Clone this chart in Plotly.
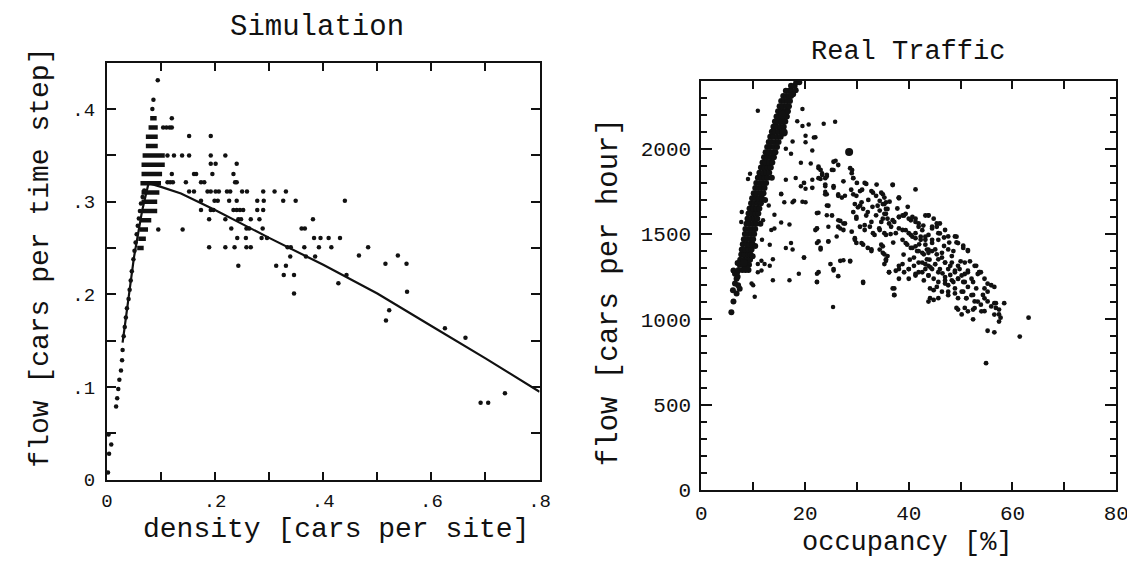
import plotly.graph_objects as go

# ---------------- Simulation panel data ----------------
sim_points = [
    (0.002, 0.008), (0.004, 0.028), (0.008, 0.038), (0.003, 0.049),
    (0.017, 0.079), (0.019, 0.088), (0.021, 0.098), (0.023, 0.108), (0.026, 0.118),
    (0.028, 0.129), (0.029, 0.140),
    (0.031, 0.155), (0.033, 0.165), (0.035, 0.175), (0.037, 0.185), (0.040, 0.195),
    (0.042, 0.205), (0.044, 0.215), (0.046, 0.225), (0.049, 0.238), (0.051, 0.247),
    (0.053, 0.256), (0.055, 0.265), (0.057, 0.274), (0.059, 0.282), (0.061, 0.290),
    (0.063, 0.298), (0.066, 0.305), (0.069, 0.312),
    (0.094, 0.431), (0.086, 0.410), (0.084, 0.400), (0.120, 0.390),
    (0.104, 0.380), (0.110, 0.380), (0.116, 0.380), (0.120, 0.380),
    (0.152, 0.371), (0.192, 0.371),
    (0.112, 0.350), (0.124, 0.350), (0.139, 0.350), (0.152, 0.350), (0.192, 0.350), (0.219, 0.350),
    (0.192, 0.341), (0.201, 0.341), (0.240, 0.341),
    (0.120, 0.330), (0.161, 0.330), (0.165, 0.330), (0.195, 0.330), (0.234, 0.330),
    (0.112, 0.321), (0.117, 0.321), (0.122, 0.321), (0.146, 0.321), (0.174, 0.321),
    (0.180, 0.321), (0.237, 0.321), (0.240, 0.321),
    (0.152, 0.311), (0.161, 0.311), (0.186, 0.311), (0.192, 0.311), (0.201, 0.311),
    (0.207, 0.311), (0.222, 0.311), (0.228, 0.311), (0.250, 0.311), (0.259, 0.311),
    (0.289, 0.311), (0.310, 0.311), (0.331, 0.311),
    (0.174, 0.301), (0.199, 0.301), (0.205, 0.301), (0.226, 0.301), (0.240, 0.301),
    (0.278, 0.301), (0.290, 0.301), (0.326, 0.301), (0.349, 0.301), (0.440, 0.301),
    (0.174, 0.291), (0.192, 0.291), (0.197, 0.291), (0.234, 0.291), (0.240, 0.291),
    (0.246, 0.291), (0.252, 0.291), (0.278, 0.291), (0.289, 0.291),
    (0.189, 0.281), (0.219, 0.281), (0.243, 0.281), (0.248, 0.281), (0.266, 0.281),
    (0.282, 0.281), (0.381, 0.281),
    (0.095, 0.270), (0.140, 0.270), (0.230, 0.271), (0.258, 0.271), (0.263, 0.271),
    (0.288, 0.271), (0.360, 0.271), (0.366, 0.271),
    (0.241, 0.261), (0.257, 0.261), (0.286, 0.261), (0.296, 0.261), (0.383, 0.261),
    (0.395, 0.261), (0.410, 0.261), (0.431, 0.261),
    (0.189, 0.251), (0.219, 0.251), (0.236, 0.251), (0.258, 0.251), (0.266, 0.251),
    (0.334, 0.251), (0.340, 0.251), (0.365, 0.251), (0.392, 0.251), (0.415, 0.251), (0.483, 0.251),
    (0.339, 0.241), (0.368, 0.241), (0.385, 0.241), (0.466, 0.242), (0.538, 0.242),
    (0.243, 0.231), (0.313, 0.231), (0.331, 0.231), (0.515, 0.233), (0.554, 0.233),
    (0.327, 0.221), (0.346, 0.221), (0.443, 0.221),
    (0.428, 0.212), (0.346, 0.201), (0.555, 0.203),
    (0.522, 0.183), (0.516, 0.172), (0.625, 0.1635), (0.663, 0.1534),
    (0.736, 0.0934), (0.691, 0.0832), (0.705, 0.0832),
]

# horizontal runs of merged dots near maximum flow: flow level, density from, density to
run_flow = [0.25, 0.26, 0.27, 0.28, 0.29, 0.30, 0.31, 0.32, 0.33, 0.34, 0.35, 0.36, 0.37, 0.38, 0.39]
run_from = [0.056, 0.058, 0.060, 0.062, 0.064, 0.064, 0.064, 0.062, 0.064, 0.064, 0.066, 0.072, 0.072, 0.077, 0.080]
run_to   = [0.068, 0.072, 0.076, 0.082, 0.093, 0.093, 0.097, 0.100, 0.102, 0.107, 0.107, 0.094, 0.094, 0.094, 0.092]

curve_density = [0.029, 0.050, 0.065, 0.077, 0.100, 0.137, 0.200, 0.300, 0.400, 0.500, 0.600, 0.700, 0.800]
curve_flow    = [0.148, 0.240, 0.290, 0.320, 0.316, 0.309, 0.291, 0.261, 0.232, 0.201, 0.166, 0.131, 0.095]

sim_xticks = [0, 0.1, 0.2, 0.3, 0.4, 0.5, 0.6, 0.7, 0.8]
sim_xlabels = ["0", "", ".2", "", ".4", "", ".6", "", ".8"]
sim_yticks = [0, 0.05, 0.1, 0.15, 0.2, 0.25, 0.3, 0.35, 0.4, 0.45]
sim_ylabels = ["0", "", ".1", "", ".2", "", ".3", "", ".4", ""]

# ---------------- Real traffic panel data ----------------
# free-flow branch: (occupancy %, flow cars/hour)
real_free = [
    (5.8, 1042), (6.2, 1105), (6.8, 1152), (7.1, 1200), (6.5, 1210), (6.8, 1238),
    (6.5, 1267), (6.2, 1286), (7.0, 1250), (6.9, 1275), (6.1, 1170), (7.4, 1180),
    (7.2, 1290), (7.9, 1290), (8.5, 1290), (9.1, 1290),
    (7.4, 1320), (8.0, 1320), (8.7, 1320), (9.2, 1320),
    (7.5, 1350), (8.2, 1350), (8.8, 1350), (9.4, 1350),
    (7.7, 1380), (8.3, 1380), (9.0, 1380), (9.5, 1380),
    (7.8, 1410), (8.5, 1410), (9.1, 1410), (9.7, 1410),
    (8.0, 1440), (8.7, 1440), (9.3, 1440), (9.9, 1440),
    (8.2, 1470), (8.8, 1470), (9.5, 1470), (10.0, 1470),
    (8.4, 1500), (9.0, 1500), (9.6, 1500), (10.2, 1500),
    (8.5, 1530), (9.2, 1530), (9.8, 1530), (10.4, 1530),
    (8.7, 1560), (9.3, 1560), (10.0, 1560), (10.6, 1560),
    (8.9, 1590), (9.6, 1590), (10.2, 1590), (10.8, 1590),
    (9.1, 1620), (9.8, 1620), (10.4, 1620), (11.0, 1620),
    (9.3, 1650), (10.0, 1650), (10.6, 1650), (11.2, 1650),
    (9.6, 1680), (10.2, 1680), (10.9, 1680), (11.5, 1680),
    (9.8, 1710), (10.5, 1710), (11.1, 1710), (11.7, 1710),
    (10.1, 1740), (10.7, 1740), (11.4, 1740), (12.0, 1740),
    (10.4, 1770), (11.0, 1770), (11.6, 1770), (12.2, 1770),
    (10.6, 1800), (11.3, 1800), (11.9, 1800), (12.5, 1800),
    (10.9, 1830), (11.6, 1830), (12.2, 1830), (12.8, 1830),
    (11.2, 1860), (11.9, 1860), (12.5, 1860), (13.1, 1860),
    (11.5, 1890), (12.2, 1890), (12.8, 1890), (13.4, 1890),
    (11.8, 1920), (12.4, 1920), (13.1, 1920), (13.7, 1920),
    (12.1, 1950), (12.7, 1950), (13.4, 1950), (14.0, 1950),
    (12.4, 1980), (13.0, 1980), (13.7, 1980), (14.3, 1980),
    (12.7, 2010), (13.3, 2010), (14.0, 2010), (14.6, 2010),
    (13.0, 2040), (13.6, 2040), (14.3, 2040), (14.9, 2040),
    (13.3, 2070), (13.9, 2070), (14.6, 2070), (15.3, 2070),
    (13.6, 2100), (14.2, 2100), (14.9, 2100), (15.6, 2100),
    (13.9, 2130), (14.5, 2130), (15.2, 2130), (15.9, 2130),
    (14.2, 2160), (14.8, 2160), (15.5, 2160), (16.2, 2160),
    (14.5, 2190), (15.1, 2190), (15.8, 2190), (16.5, 2190),
    (14.8, 2220), (15.4, 2220), (16.1, 2220), (16.7, 2220),
    (15.1, 2250), (15.7, 2250), (16.4, 2250), (16.9, 2250),
    (15.4, 2280), (16.0, 2280), (16.6, 2280), (17.1, 2280),
    (15.8, 2310), (16.4, 2310), (16.9, 2310), (17.3, 2310),
    (16.3, 2340), (16.9, 2340), (17.4, 2340),
    (17.3, 2370), (18.0, 2370), (18.3, 2390), (18.9, 2390), (18.2, 2343), (17.7, 2320),
    (10.4, 1430), (9.9, 1370), (7.0, 1330), (11.4, 1560), (12.3, 1700), (13.6, 1830),
]

# scattered points between the branches
real_scatter = [
    (10.9, 2223), (7.8, 1629), (7.7, 1571), (9.4, 1853), (9.0, 1823),
    (13.0, 1667), (14.1, 1613), (11.9, 1581), (11.7, 1467), (13.2, 1438), (15.4, 1568),
    (17.0, 1556), (14.1, 1533), (13.5, 1524), (17.3, 1448), (16.3, 1419), (17.6, 1410),
    (19.8, 1362), (22.3, 1448), (23.0, 1410), (24.5, 1457), (26.1, 1486),
    (10.9, 1324), (11.6, 1343), (12.2, 1324), (13.2, 1314), (13.8, 1352), (10.9, 1276),
    (11.6, 1286), (13.8, 1229), (17.0, 1229), (18.8, 1267), (22.3, 1267), (22.3, 1219),
    (25.5, 1286), (27.4, 1347), (28.7, 1339), (31.2, 1213), (25.4, 1072),
    (9.7, 1210), (10.0, 1200), (10.3, 1133),
    (15.4, 1733), (16.0, 1686), (17.6, 1686), (19.5, 1690), (20.1, 1686), (24.2, 1667),
    (22.6, 1625), (24.2, 1610), (26.4, 1581), (27.4, 1562), (26.8, 1533), (24.5, 1543),
    (22.3, 1533), (16.3, 1819), (18.2, 1829), (19.2, 1781), (20.1, 1766), (21.4, 1819),
    (23.0, 1823), (23.9, 1781), (25.5, 1771), (24.2, 1733),
    (16.3, 2000), (17.3, 1971), (19.2, 1918), (21.1, 1914), (22.6, 1886), (23.3, 1857),
    (25.5, 1876), (24.2, 1838), (25.9, 1930), (29.1, 1876), (29.3, 1829),
    (18.5, 2162), (19.5, 2133), (20.7, 2143), (20.1, 2076), (22.0, 2067), (23.6, 2147),
    (25.8, 2158), (20.1, 2038), (21.4, 1990), (19.5, 2234), (17.6, 2043), (21.7, 2066),
    (15.4, 1737), (17.9, 1695), (23.9, 1748), (26.4, 1733), (27.7, 1724),
]

# congested branch
real_congested = [
    (31.5, 1800), (33.1, 1743), (33.7, 1724), (35.0, 1733), (35.6, 1686), (29.9, 1724),
    (30.6, 1667), (31.2, 1648), (29.3, 1629), (32.1, 1629), (33.7, 1610), (35.0, 1590),
    (32.8, 1571), (34.3, 1533), (31.5, 1552), (29.9, 1590), (33.4, 1495), (35.6, 1495),
    (34.7, 1438), (35.3, 1324), (29.6, 1476), (29.9, 1448), (31.2, 1438), (32.8, 1410),
    (22.6, 1895), (23.0, 1876), (23.3, 1847), (24.2, 1847), (23.9, 1828), (25.5, 1924),
    (26.4, 1905), (25.2, 1876), (28.7, 1886), (29.0, 1857), (29.3, 1828), (19.8, 1800),
    (21.4, 1771), (22.6, 1828), (23.9, 1790), (23.9, 1733), (25.5, 1781), (27.4, 1809),
    (26.4, 1724), (27.1, 1714), (29.3, 1733), (30.6, 1752), (31.8, 1794), (32.8, 1752),
    (34.7, 1743), (35.3, 1714), (34.4, 1695), (36.9, 1790), (38.1, 1714), (41.3, 1762),
    (29.6, 1676), (30.2, 1657), (30.9, 1686), (31.8, 1609), (29.9, 1600), (34.0, 1666),
    (34.4, 1638), (35.3, 1676), (35.6, 1619), (35.9, 1647), (22.3, 1623), (25.2, 1609),
    (24.5, 1666), (26.8, 1577), (27.7, 1562), (26.4, 1543), (29.0, 1514), (27.4, 1524),
    (22.3, 1533), (22.0, 1524), (30.6, 1543), (31.5, 1524), (32.5, 1543), (33.1, 1505),
    (34.4, 1524), (35.3, 1505), (36.9, 1581), (38.1, 1600), (38.8, 1609), (39.4, 1619),
    (40.4, 1581), (41.3, 1590), (41.9, 1562), (43.2, 1609), (36.6, 1543), (37.5, 1505),
    (38.8, 1524), (40.0, 1505), (41.3, 1505), (42.3, 1485), (29.6, 1466), (30.9, 1447),
    (32.1, 1419), (32.8, 1400), (22.6, 1457), (23.0, 1419), (24.5, 1457), (19.8, 1362),
    (26.8, 1343), (28.7, 1343), (24.9, 1324), (25.5, 1295), (22.6, 1276), (22.3, 1219),
    (26.4, 1253), (31.2, 1219), (34.4, 1409), (35.0, 1390), (35.9, 1371), (35.6, 1352),
    (36.2, 1276), (38.1, 1295), (38.1, 1238), (37.2, 1181), (37.2, 1143), (39.4, 1447),
    (40.4, 1419), (41.3, 1428), (41.9, 1400), (42.9, 1381), (43.8, 1409), (43.2, 1466),
    (40.7, 1485), (38.8, 1324), (40.0, 1295), (41.0, 1314), (41.9, 1276), (43.2, 1295),
    (42.6, 1333), (43.5, 1352), (43.8, 1314), (40.0, 1238), (41.3, 1257), (42.9, 1228),
    (43.8, 1257), (43.8, 1610), (46.0, 1562), (44.5, 1543), (45.4, 1562), (45.7, 1505),
    (47.0, 1524), (47.6, 1486), (48.9, 1486), (49.2, 1451), (50.5, 1432), (51.4, 1406),
    (47.6, 1410), (46.4, 1390), (45.1, 1410), (44.5, 1448), (43.8, 1390), (45.7, 1352),
    (47.0, 1333), (48.3, 1333), (49.5, 1314), (50.8, 1333), (47.6, 1295), (48.9, 1276),
    (50.2, 1257), (51.4, 1276), (52.7, 1314), (53.6, 1276), (44.5, 1295), (45.7, 1276),
    (47.0, 1248), (48.3, 1229), (49.5, 1238), (50.8, 1219), (52.1, 1238), (47.0, 1210),
    (45.4, 1190), (44.1, 1181), (44.1, 1124), (45.7, 1124), (47.6, 1162), (48.9, 1181),
    (49.5, 1124), (50.5, 1162), (51.1, 1124), (52.4, 1143), (53.0, 1181), (54.6, 1181),
    (55.9, 1200), (54.3, 1143), (55.2, 1105), (56.5, 1095), (53.9, 1086), (52.4, 1057),
    (52.7, 1105), (50.8, 1067), (49.2, 1067), (50.2, 1029), (52.4, 1000), (54.6, 1048),
    (56.8, 1067), (57.4, 1029), (57.7, 1010), (57.4, 987), (56.5, 924), (55.2, 933),
    (63.1, 1010), (61.4, 899), (54.9, 743), (36.9, 1787), (38.1, 1710),
    # densest part of the congested cloud
    (35.0, 1676), (35.6, 1647), (35.3, 1619), (35.9, 1590), (34.7, 1571), (36.2, 1562),
    (37.2, 1571), (38.1, 1600), (39.1, 1609), (40.0, 1590), (40.7, 1600), (41.3, 1571),
    (41.9, 1543), (42.6, 1523), (38.1, 1533), (39.4, 1523), (40.4, 1495), (41.3, 1476),
    (42.3, 1466), (43.2, 1485), (43.8, 1495), (44.5, 1466), (38.8, 1466), (39.7, 1438),
    (40.7, 1419), (41.6, 1400), (42.6, 1390), (43.5, 1409), (44.5, 1400), (45.4, 1381),
    (46.4, 1362), (41.0, 1362), (41.9, 1333), (43.2, 1323), (44.2, 1304), (45.1, 1323),
    (46.0, 1295), (47.0, 1333), (48.0, 1314), (48.9, 1285), (49.8, 1295), (50.8, 1266),
    (51.4, 1285), (43.8, 1257), (44.8, 1238), (45.7, 1219), (47.0, 1228), (47.6, 1200),
    (48.6, 1219), (49.5, 1238), (50.5, 1219), (51.4, 1190), (52.4, 1219), (53.3, 1266),
    (53.9, 1276), (44.8, 1171), (46.4, 1162), (47.6, 1142), (48.9, 1152), (50.2, 1162),
    (51.1, 1123), (52.1, 1142), (53.3, 1104), (54.6, 1123), (55.2, 1162), (55.9, 1076),
    (56.8, 1095), (52.7, 1066), (51.4, 1047), (49.5, 1057), (54.0, 1047), (56.5, 1028),
    (57.4, 1057), (58.4, 1095), (35.6, 1343), (36.2, 1276), (37.5, 1285), (38.1, 1314),
    (39.1, 1276), (42.6, 1276), (43.8, 1104), (44.8, 1114), (36.9, 1181), (37.2, 1142),
    (45.7, 1466), (46.0, 1504), (43.8, 1609), (44.5, 1533), (45.4, 1543), (49.2, 1485),
    (49.5, 1447), (50.5, 1419), (51.4, 1400), (48.6, 1400), (48.3, 1371), (53.0, 1314),
    (53.6, 1276), (54.6, 1238), (55.2, 1209), (56.5, 1190), (43.2, 1438), (40.0, 1295),
    (41.3, 1266), (35.0, 1428), (35.3, 1381), (38.1, 1714),
    (36.5, 1500), (37.0, 1450), (39.0, 1380), (40.2, 1350), (42.0, 1440), (44.0, 1350),
    (46.8, 1430), (47.8, 1450), (46.5, 1270), (48.0, 1260), (50.0, 1340), (51.8, 1340),
    (33.0, 1660), (32.2, 1700), (31.0, 1760), (30.0, 1800), (28.9, 1760), (33.8, 1790),
    (37.8, 1650), (36.3, 1690), (39.8, 1660), (42.8, 1550), (44.8, 1590), (46.8, 1480),
]

# heavier blobs
real_blobs = [(28.5, 1981), (8.6, 1300), (15.9, 2095), (15.6, 2200), (8.2, 1330)]

real_xticks = [0, 10, 20, 30, 40, 50, 60, 70, 80]
real_xlabels = ["0", "", "20", "", "40", "", "60", "", "80"]

# ---------------- figure ----------------
FONT = "Liberation Mono"
INK = "#111111"
fig = go.Figure()

rx, ry = [], []
for f, a, b in zip(run_flow, run_from, run_to):
    rx += [a, b, None]
    ry += [f, f, None]
fig.add_trace(go.Scatter(x=rx, y=ry, mode="lines", line=dict(color=INK, width=4.5),
                         xaxis="x", yaxis="y", showlegend=False, hoverinfo="skip"))
fig.add_trace(go.Scatter(x=[p[0] for p in sim_points], y=[p[1] for p in sim_points],
                         mode="markers", marker=dict(color=INK, size=4.5),
                         xaxis="x", yaxis="y", showlegend=False))
fig.add_trace(go.Scatter(x=curve_density, y=curve_flow, mode="lines",
                         line=dict(color=INK, width=2.2), xaxis="x", yaxis="y", showlegend=False))

for pts, size in [(real_free, 6), (real_scatter, 4.5), (real_congested, 4.8), (real_blobs, 8)]:
    fig.add_trace(go.Scatter(x=[p[0] for p in pts], y=[p[1] for p in pts], mode="markers",
                             marker=dict(color=INK, size=size),
                             xaxis="x2", yaxis="y2", showlegend=False))

W, H = 1135, 562
axis_common = dict(showline=True, linecolor=INK, linewidth=2, mirror="allticks",
                   ticks="inside", tickcolor=INK, tickwidth=1.5, showgrid=False,
                   zeroline=False)
sim_font = dict(family=FONT, size=19, color=INK)
real_font = dict(family=FONT, size=21, color=INK)

fig.update_layout(
    width=W, height=H, margin=dict(l=0, r=0, t=0, b=0),
    paper_bgcolor="white", plot_bgcolor="white",
    xaxis=dict(domain=[94.5 / W, 534.5 / W], range=[0, 0.8], tickmode="array",
               tickvals=sim_xticks, ticktext=sim_xlabels, ticklen=8, anchor="y",
               tickfont=sim_font, ticklabelstandoff=2, **axis_common),
    yaxis=dict(domain=[1 - 483 / H, 1 - 56 / H], range=[0, 0.45], tickmode="array",
               tickvals=sim_yticks, ticktext=sim_ylabels, ticklen=9, anchor="x",
               tickfont=sim_font, ticklabelstandoff=6, **axis_common),
    xaxis2=dict(domain=[699 / W, 1121 / W], range=[0, 80], tickmode="array",
                tickvals=real_xticks, ticktext=real_xlabels, ticklen=8, anchor="y2",
                tickfont=real_font, ticklabelstandoff=3, **axis_common),
    yaxis2=dict(domain=[1 - 493.3 / H, 1 - 74.3 / H], range=[0, 2400], tickmode="linear",
                tick0=0, dtick=500, ticklen=11, anchor="x2", ticklabelstandoff=4,
                tickfont=real_font,
                minor=dict(dtick=100, ticklen=6, tickwidth=1.5, tickcolor=INK, ticks="inside"),
                **axis_common),
)

def label(text, x, y, size, angle=0):
    fig.add_annotation(text=text, x=x / W, y=1 - y / H, xref="paper", yref="paper",
                       showarrow=False, textangle=angle, xanchor="center", yanchor="middle",
                       font=dict(family=FONT, size=size, color=INK))

label("Simulation", 308, 20, 29)
label("density [cars per site]", 327, 534, 28)
label("flow [cars per time step]", 27, 256, 28, -90)
label("Real Traffic", 909, 45, 27)
label("occupancy [%]", 909, 548, 27)
label("flow [cars per hour]", 605, 291, 29, -90)

fig.write_html("out.html")
